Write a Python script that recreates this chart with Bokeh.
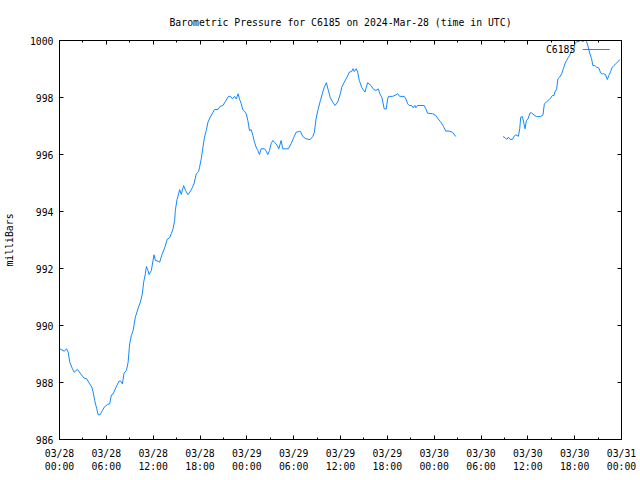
import math
from bokeh.plotting import figure
from bokeh.models import Range1d, LinearAxis, FixedTicker, Label, Arrow, CustomLabelingPolicy
from bokeh.embed import file_html
from bokeh.resources import INLINE

NAN = float("nan")

# hours since 2024-03-28 00:00 UTC
hours = [
    0.05, 0.60, 0.90, 1.11, 1.32, 1.66, 1.88, 2.30, 2.72, 3.16, 3.49, 3.80, 4.13, 4.31, 4.51, 4.77,
    4.95, 5.21, 5.50, 5.72, 6.14, 6.43, 6.65, 6.87, 7.20, 7.63, 7.84, 8.06, 8.27, 8.57, 8.79, 8.99,
    9.21, 9.43, 9.72, 10.06, 10.36, 10.61, 10.78, 11.00, 11.13, 11.34, 11.47, 11.77, 11.98, 12.11,
    12.28, 12.62, 12.83, 13.13, 13.47, 13.81, 14.11, 14.32, 14.54, 14.75, 14.84, 15.05, 15.26, 15.39,
    15.60, 15.90, 16.15, 16.46, 16.88, 17.23, 17.52, 17.82, 17.94, 18.16, 18.38, 18.58, 18.80, 19.02,
    19.31, 19.66, 19.86, 20.30, 20.59, 20.94, 21.27, 21.65, 21.91, 22.16, 22.42, 22.64, 22.89, 23.06,
    23.28, 23.49, 23.70, 23.92, 24.13, 24.34, 24.56, 24.77, 24.98, 25.19, 25.41, 25.62, 25.83, 26.26,
    26.47, 26.69, 26.90, 27.11, 27.33, 27.54, 27.88, 28.10, 28.39, 28.61, 29.03, 29.33, 29.67, 30.02,
    30.31, 30.73, 30.86, 31.17, 31.59, 32.10, 32.45, 32.65, 32.87, 33.09, 33.42, 33.73, 33.93, 34.19,
    34.44, 34.70, 35.00, 35.30, 35.64, 35.98, 36.16, 36.49, 36.83, 37.13, 37.43, 37.60, 37.77, 38.02,
    38.20, 38.41, 38.71, 38.97, 39.14, 39.30, 39.48, 39.90, 40.25, 40.54, 40.84, 41.05, 41.31, 41.60,
    41.86, 42.04, 42.16, 42.68, 43.10, 43.32, 43.57, 44.16, 44.38, 44.60, 44.80, 45.11, 45.31, 45.53,
    45.66, 45.87, 46.72, 46.94, 47.15, 47.79, 48.21, 48.51, 48.86, 49.20, 49.49, 49.91, 50.35, 50.77,
    53.50,
    56.82, 57.08, 57.30, 57.51, 57.72, 58.02, 58.23, 58.45, 58.79, 58.96, 59.09, 59.30, 59.51, 59.64,
    59.82, 60.02, 60.28, 60.49, 60.79, 61.09, 61.64, 61.94, 62.12, 62.37, 62.71, 62.92, 63.14, 63.35,
    63.47, 63.69, 63.86, 64.07, 64.33, 64.55, 64.75, 64.97, 65.19, 65.35, 65.61, 65.90, 66.03, 66.25,
    66.54, 66.76, 67.05, 67.31, 67.53, 67.74, 67.95, 68.17, 68.33, 68.59, 68.81, 69.10, 69.32, 69.54,
    69.74, 69.96, 70.18, 70.38, 70.60, 70.82, 71.02, 71.33, 71.58, 71.75,
]

pressure = [
    989.18, 989.10, 989.18, 989.06, 988.71, 988.48, 988.36, 988.46, 988.30, 988.15, 988.13, 987.98, 987.84, 987.66, 987.37, 987.08,
    986.87, 986.87, 987.02, 987.13, 987.23, 987.25, 987.56, 987.60, 987.81, 988.05, 988.05, 987.95, 988.33, 988.42, 988.71, 989.36,
    989.65, 989.82, 990.29, 990.59, 990.82, 991.11, 991.52, 991.81, 992.07, 991.93, 991.79, 991.93, 992.28, 992.48,
    992.28, 992.26, 992.22, 992.49, 992.72, 993.03, 993.08, 993.22, 993.39, 993.68, 994.04, 994.41, 994.62, 994.77,
    994.60, 994.91, 994.74, 994.59, 994.76, 994.97, 995.32, 995.40, 995.55, 995.85, 996.26, 996.61, 996.84, 997.13,
    997.31, 997.48, 997.58, 997.58, 997.69, 997.72, 997.87, 998.04, 998.04, 997.95, 998.04, 997.95, 998.13, 997.95,
    997.78, 997.57, 997.52, 997.43, 997.19, 996.84, 996.87, 996.67, 996.43, 996.26, 996.14, 996.00, 996.20, 996.20,
    996.12, 996.00, 996.14, 996.38, 996.49, 996.43, 996.32, 996.20, 996.49, 996.20, 996.20, 996.20, 996.38, 996.60,
    996.78, 996.81, 996.81, 996.63, 996.55, 996.52, 996.63, 996.78, 997.25, 997.54, 997.89, 998.19, 998.36, 998.52,
    998.25, 997.99, 997.84, 997.72, 997.84, 998.13, 998.36, 998.54, 998.71, 998.89, 998.91, 999.01, 998.91, 999.01,
    998.89, 998.60, 998.36, 998.25, 998.19, 998.36, 998.52, 998.42, 998.28, 998.25, 998.30, 998.13, 997.99, 997.60,
    997.60, 997.95, 998.04, 998.04, 998.09, 998.13, 998.04, 998.04, 997.95, 997.78, 997.72, 997.72, 997.64, 997.72,
    997.64, 997.72, 997.72, 997.60, 997.45, 997.43, 997.37, 997.25, 997.13, 996.98, 996.82, 996.82, 996.78, 996.63,
    NAN,
    996.63, 996.59, 996.53, 996.61, 996.53, 996.53, 996.64, 996.69, 996.64, 996.90, 997.31, 997.33, 997.08, 996.90,
    997.19, 997.25, 997.46, 997.46, 997.39, 997.33, 997.33, 997.39, 997.78, 997.84, 997.92, 997.98, 998.07, 998.07,
    998.19, 998.30, 998.66, 998.71, 998.83, 999.01, 999.18, 999.30, 999.41, 999.47, 999.65, 999.71, 999.88, 999.96,
    999.96, 1000.02, 999.96, 1000.02, 999.96, 999.77, 999.53, 999.36, 999.12, 999.12, 999.06, 999.03, 998.87, 998.83,
    998.83, 998.80, 998.63, 998.77, 998.91, 999.06, 999.12, 999.20, 999.26, 999.33,
]

x_ticks = [0, 6, 12, 18, 24, 30, 36, 42, 48, 54, 60, 66, 72]
x_minor_ticks = [3, 9, 15, 21, 27, 33, 39, 45, 51, 57, 63, 69]
x_tick_labels = [
    "03/28\n00:00", "03/28\n06:00", "03/28\n12:00", "03/28\n18:00",
    "03/29\n00:00", "03/29\n06:00", "03/29\n12:00", "03/29\n18:00",
    "03/30\n00:00", "03/30\n06:00", "03/30\n12:00", "03/30\n18:00",
    "03/31\n00:00",
]
y_ticks = [986, 988, 990, 992, 994, 996, 998, 1000]

TITLE = "Barometric Pressure for C6185 on 2024-Mar-28 (time in UTC)"
SERIES = "C6185"
Y_LABEL = "milliBars"

FONT = "DejaVu Sans Mono"
FS = "9.8px"
LINE_COLOR = "#1188ff"
X0, X1 = 0, 72
Y0, Y1 = 986, 1000

p = figure(width=640, height=480, output_backend="svg", toolbar_location=None,
           x_range=Range1d(X0, X1), y_range=Range1d(Y0, Y1),
           min_border_left=58, min_border_right=19, min_border_top=40, min_border_bottom=41,
           title=TITLE)
p.title.text_font = FONT
p.title.text_font_size = FS
p.title.text_font_style = "normal"
p.title.align = "center"
p.title.text_color = "black"
p.title.standoff = 18

p.grid.visible = False
p.outline_line_color = "black"
p.outline_line_width = 1
p.background_fill_color = "white"
p.border_fill_color = "white"

xt = FixedTicker(ticks=x_ticks, minor_ticks=x_minor_ticks)
yt = FixedTicker(ticks=y_ticks, minor_ticks=[])

no_labels = CustomLabelingPolicy(code="""
const all = [...indices];
for (const i of all) indices.unset(i);
return indices;
""")


def style_axis(ax, show_labels=True):
    ax.axis_line_color = "black"
    ax.major_tick_line_color = "black"
    ax.minor_tick_line_color = "black"
    ax.major_tick_in = 4
    ax.major_tick_out = 0
    ax.minor_tick_in = 2
    ax.minor_tick_out = 0
    ax.major_label_text_font = FONT
    ax.major_label_text_color = "black"
    if show_labels:
        ax.major_label_text_font_size = FS
    else:
        ax.major_label_text_font_size = "1px"
        ax.major_label_policy = no_labels
        ax.major_label_standoff = 0


xa = p.xaxis[0]
xa.ticker = xt
xa.major_label_overrides = {t: l for t, l in zip(x_ticks, x_tick_labels)}
style_axis(xa)
xa.major_label_standoff = 8

ya = p.yaxis[0]
ya.ticker = yt
style_axis(ya)
ya.major_label_standoff = 6
ya.axis_label = Y_LABEL
ya.axis_label_text_font = FONT
ya.axis_label_text_font_size = FS
ya.axis_label_text_font_style = "normal"
ya.axis_label_text_color = "black"
ya.axis_label_standoff = 12

top = LinearAxis(ticker=xt)
style_axis(top, False)
p.add_layout(top, "above")

right = LinearAxis(ticker=yt)
style_axis(right, False)
p.add_layout(right, "right")

p.line(hours, pressure, line_color=LINE_COLOR, line_width=1)

# gnuplot-style key: label then sample line, top right inside the frame
key_y = Y1 - 0.0226 * (Y1 - Y0)
p.add_layout(Label(x=X0 + 0.918 * (X1 - X0), y=key_y, text=SERIES,
                   text_align="right", text_baseline="middle",
                   text_font=FONT, text_font_size=FS, text_color="black"))
p.add_layout(Arrow(end=None, x_start=X0 + 0.931 * (X1 - X0), y_start=key_y,
                   x_end=X0 + 0.979 * (X1 - X0), y_end=key_y,
                   line_color=LINE_COLOR, line_width=1))

open("out.html", "w").write(file_html(p, INLINE))
